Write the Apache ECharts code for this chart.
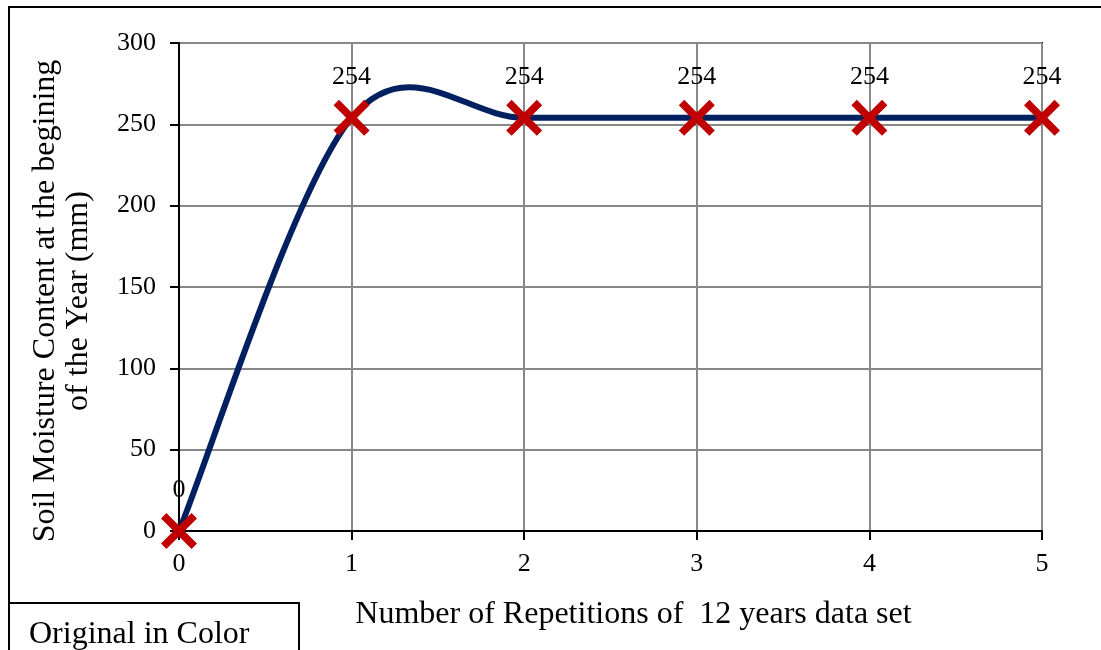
<!DOCTYPE html>
<html>
<head>
<meta charset="utf-8">
<style>
  html, body { margin: 0; padding: 0; background: #fff; }
  #chart { width: 1101px; height: 650px; }
</style>
<script src="https://cdn.jsdelivr.net/npm/echarts@6/dist/echarts.min.js"></script>
</head>
<body>
<div id="chart"></div>
<script>
// Repetitions of the 12-year data set and resulting start-of-year soil moisture (mm)
const repetitions = [0, 1, 2, 3, 4, 5];
const soilMoisture = [0, 254, 254, 254, 254, 254];
const yTicks = [0, 50, 100, 150, 200, 250, 300];

const serif = '"Liberation Serif", "Times New Roman", serif';
const crossPath = 'path://M0,3 L3,0 L10,7 L17,0 L20,3 L13,10 L20,17 L17,20 L10,13 L3,20 L0,17 L7,10 Z';
const points = repetitions.map((r, i) => [r, soilMoisture[i]]);

// Smoothed line: cubic Bezier segments through the data points (Catmull-Rom
// tangents, 1/6 of the neighbour span), built in pixel space from api.coord.
function renderSmoothLine(params, api) {
  if (params.dataIndex !== 0) return null;
  const px = points.map(p => api.coord(p));
  const n = px.length;
  let d = 'M' + px[0][0] + ',' + px[0][1];
  for (let i = 0; i < n - 1; i++) {
    const p0 = px[Math.max(i - 1, 0)];
    const p1 = px[i];
    const p2 = px[i + 1];
    const p3 = px[Math.min(i + 2, n - 1)];
    const c1 = [p1[0] + (p2[0] - p0[0]) / 6, p1[1] + (p2[1] - p0[1]) / 6];
    const c2 = [p2[0] - (p3[0] - p1[0]) / 6, p2[1] - (p3[1] - p1[1]) / 6];
    d += ' C' + c1[0] + ',' + c1[1] + ' ' + c2[0] + ',' + c2[1] + ' ' + p2[0] + ',' + p2[1];
  }
  return {
    type: 'path',
    shape: { pathData: d },
    style: { fill: 'none', stroke: '#002060', lineWidth: 6, lineJoin: 'round' }
  };
}

const chart = echarts.init(document.getElementById('chart'), null, { renderer: 'canvas' });

chart.setOption({
  animation: false,
  backgroundColor: '#fff',
  textStyle: { fontFamily: serif },
  grid: {
    left: 179, right: 59, top: 43, bottom: 119,
    show: true, borderColor: '#000', borderWidth: 2, backgroundColor: 'transparent'
  },
  xAxis: {
    type: 'value',
    min: 0, max: 5, interval: 1,
    name: 'Number of Repetitions of  12 years data set',
    nameLocation: 'middle',
    nameGap: 68,
    nameTextStyle: { fontFamily: serif, fontSize: 32, color: '#000', padding: [0, 0, 0, 46] },
    axisLine: { show: true, onZero: false, lineStyle: { color: '#000', width: 2 } },
    axisTick: { show: true, length: 9, lineStyle: { color: '#000', width: 2 } },
    axisLabel: { fontFamily: serif, fontSize: 26, color: '#000', margin: 20 },
    splitLine: { show: true, lineStyle: { color: '#888', width: 2 } }
  },
  yAxis: {
    type: 'value',
    min: yTicks[0], max: yTicks[yTicks.length - 1], interval: 50,
    name: 'Soil Moisture Content at the begining\nof the Year (mm)',
    nameLocation: 'middle',
    nameGap: 84,
    nameRotate: 90,
    nameTextStyle: { fontFamily: serif, fontSize: 32, color: '#000', lineHeight: 33, padding: [0, 28, 0, 0] },
    axisLine: { show: true, lineStyle: { color: '#000', width: 2 } },
    axisTick: { show: true, length: 9, lineStyle: { color: '#000', width: 2 } },
    axisLabel: { fontFamily: serif, fontSize: 26, color: '#000', margin: 23 },
    splitLine: { show: true, lineStyle: { color: '#888', width: 2 } }
  },
  series: [
    {
      type: 'custom',
      renderItem: renderSmoothLine,
      data: [points[0]],
      clip: false,
      silent: true,
      z: 2
    },
    {
      type: 'scatter',
      data: points,
      symbol: crossPath,
      symbolSize: 36,
      itemStyle: { color: '#C00000', opacity: 1 },
      label: {
        show: true,
        position: 'top',
        distance: 10,
        fontFamily: serif,
        fontSize: 26,
        color: '#000',
        opacity: 1,
        formatter: p => String(p.value[1])
      },
      emphasis: { disabled: true },
      clip: false,
      z: 3
    }
  ],
  graphic: [
    {
      type: 'rect',
      shape: { x: 9, y: 7, width: 1100, height: 700 },
      style: { fill: 'none', stroke: '#000', lineWidth: 2 },
      silent: true
    },
    {
      type: 'rect',
      shape: { x: 9, y: 603, width: 290, height: 60 },
      style: { fill: '#fff', stroke: '#000', lineWidth: 2 },
      silent: true
    },
    {
      type: 'text',
      left: 29, top: 619,
      style: { text: 'Original in Color', font: '32px ' + serif, fill: '#000' },
      silent: true
    }
  ]
});
</script>
</body>
</html>
